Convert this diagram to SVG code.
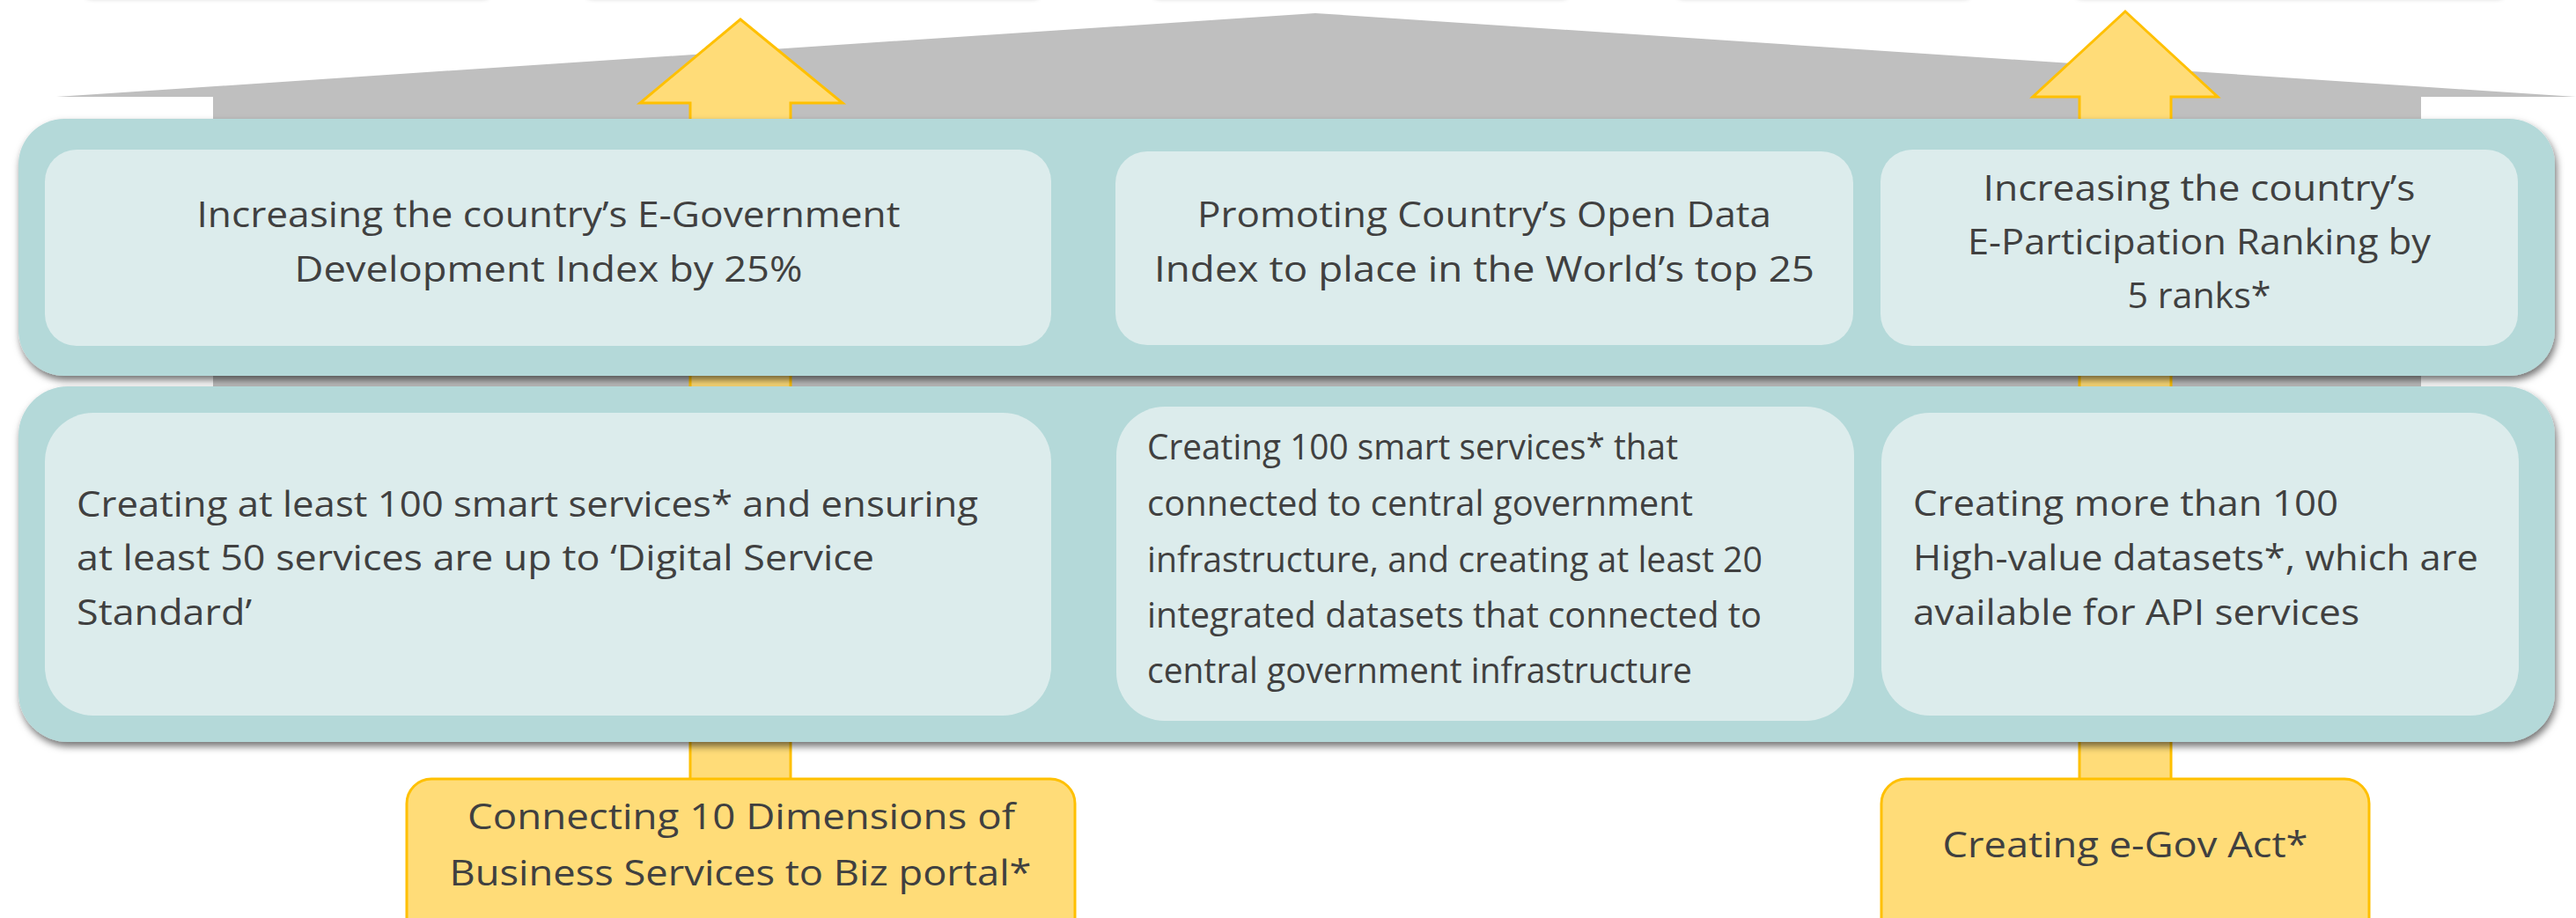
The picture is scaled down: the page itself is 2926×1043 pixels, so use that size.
<svg xmlns="http://www.w3.org/2000/svg" width="2926" height="1043" viewBox="0 0 2926 1043">
  <defs>
    <filter id="bandShadow" x="-5%" y="-20%" width="110%" height="140%">
      <feDropShadow dx="2" dy="5" stdDeviation="4" flood-color="#000" flood-opacity="0.55"/>
    </filter>
    <filter id="softShadow" x="-5%" y="-50%" width="110%" height="200%">
      <feDropShadow dx="0" dy="2" stdDeviation="2" flood-color="#000" flood-opacity="0.12"/>
    </filter>
    <style>
      .band { fill: #B4D9D9; filter: url(#bandShadow); }
      .cell { fill: #DCECEC; }
      .goal { fill: #FFDC78; stroke: #FFC000; stroke-width: 3; }
      .arrow { fill: #FFDC78; stroke: #FFC000; stroke-width: 3; stroke-linejoin: miter; }
      .roof { fill: #BFBFBF; }
      text { font-family: "Open Sans", "Liberation Sans", sans-serif; font-size: 40px; fill: #404040; }
      .c { text-anchor: middle; }
    </style>
  </defs>

  <!-- edges of boxes sitting above the visible area -->
  <g id="offscreen-boxes" filter="url(#softShadow)" fill="#ffffff">
    <rect x="93" y="-60" width="467" height="58" rx="12"/>
    <rect x="662" y="-60" width="523" height="58" rx="12"/>
    <rect x="1306" y="-60" width="479" height="58" rx="12"/>
    <rect x="1901" y="-60" width="341" height="58" rx="12"/>
    <rect x="2354" y="-60" width="494" height="58" rx="12"/>
  </g>

  <!-- house roof and body -->
  <g id="house">
    <polygon class="roof" points="64,110 1494,15 2926,110 2750,110 2750,470 242,470 242,110"/>
  </g>

  <!-- upward arrows from the goal boxes -->
  <g id="connectors">
    <polygon class="arrow" points="841,22 957,117 898,117 898,887 784,887 784,117 727,117"/>
    <polygon class="arrow" points="2414,13 2519,110 2466,110 2466,887 2362,887 2362,110 2309,110"/>
  </g>

  <!-- upper tier: targets -->
  <g id="tier-upper">
    <rect class="band" x="21" y="135" width="2881" height="292" rx="52"/>
  </g>
  <g id="target-egdi">
    <rect class="cell" x="51" y="170" width="1143" height="223" rx="36"/>
    <text class="c" x="623" y="258" textLength="799" lengthAdjust="spacingAndGlyphs">Increasing the country’s E-Government</text>
    <text class="c" x="623" y="320" textLength="577" lengthAdjust="spacingAndGlyphs">Development Index by 25%</text>
  </g>
  <g id="target-open-data">
    <rect class="cell" x="1267" y="172" width="838" height="220" rx="36"/>
    <text class="c" x="1686" y="258" textLength="652" lengthAdjust="spacingAndGlyphs">Promoting Country’s Open Data</text>
    <text class="c" x="1686" y="320" textLength="750" lengthAdjust="spacingAndGlyphs">Index to place in the World’s top 25</text>
  </g>
  <g id="target-e-participation">
    <rect class="cell" x="2136" y="170" width="724" height="223" rx="36"/>
    <text class="c" x="2498" y="228" textLength="491" lengthAdjust="spacingAndGlyphs">Increasing the country’s</text>
    <text class="c" x="2498" y="289" textLength="526" lengthAdjust="spacingAndGlyphs">E-Participation Ranking by</text>
    <text class="c" x="2498" y="350" textLength="163" lengthAdjust="spacingAndGlyphs">5 ranks*</text>
  </g>

  <!-- lower tier: services and data -->
  <g id="tier-lower">
    <rect class="band" x="21" y="439" width="2881" height="404" rx="56"/>
  </g>
  <g id="service-standard">
    <rect class="cell" x="51" y="469" width="1143" height="344" rx="55"/>
    <text x="87" y="587" textLength="1024" lengthAdjust="spacingAndGlyphs">Creating at least 100 smart services* and ensuring</text>
    <text x="87" y="648" textLength="906" lengthAdjust="spacingAndGlyphs">at least 50 services are up to ‘Digital Service</text>
    <text x="87" y="710" textLength="199" lengthAdjust="spacingAndGlyphs">Standard’</text>
  </g>
  <g id="central-infrastructure">
    <rect class="cell" x="1268" y="462" width="838" height="357" rx="55"/>
    <text x="1303" y="522" textLength="603" lengthAdjust="spacingAndGlyphs">Creating 100 smart services* that</text>
    <text x="1303" y="586" textLength="620" lengthAdjust="spacingAndGlyphs">connected to central government</text>
    <text x="1303" y="650" textLength="699" lengthAdjust="spacingAndGlyphs">infrastructure, and creating at least 20</text>
    <text x="1303" y="713" textLength="698" lengthAdjust="spacingAndGlyphs">integrated datasets that connected to</text>
    <text x="1303" y="776" textLength="619" lengthAdjust="spacingAndGlyphs">central government infrastructure</text>
  </g>
  <g id="high-value-datasets">
    <rect class="cell" x="2137" y="469" width="724" height="344" rx="55"/>
    <text x="2173" y="586" textLength="483" lengthAdjust="spacingAndGlyphs">Creating more than 100</text>
    <text x="2173" y="648" textLength="642" lengthAdjust="spacingAndGlyphs">High-value datasets*, which are</text>
    <text x="2173" y="710" textLength="507" lengthAdjust="spacingAndGlyphs">available for API services</text>
  </g>

  <!-- foundation initiatives -->
  <g id="biz-portal">
    <rect class="goal" x="462" y="885" width="759" height="190" rx="28"/>
    <text class="c" x="842" y="942" textLength="622" lengthAdjust="spacingAndGlyphs">Connecting 10 Dimensions of</text>
    <text class="c" x="841" y="1006" textLength="661" lengthAdjust="spacingAndGlyphs">Business Services to Biz portal*</text>
  </g>
  <g id="egov-act">
    <rect class="goal" x="2137" y="885" width="554" height="190" rx="28"/>
    <text class="c" x="2414" y="974" textLength="415" lengthAdjust="spacingAndGlyphs">Creating e-Gov Act*</text>
  </g>
</svg>
